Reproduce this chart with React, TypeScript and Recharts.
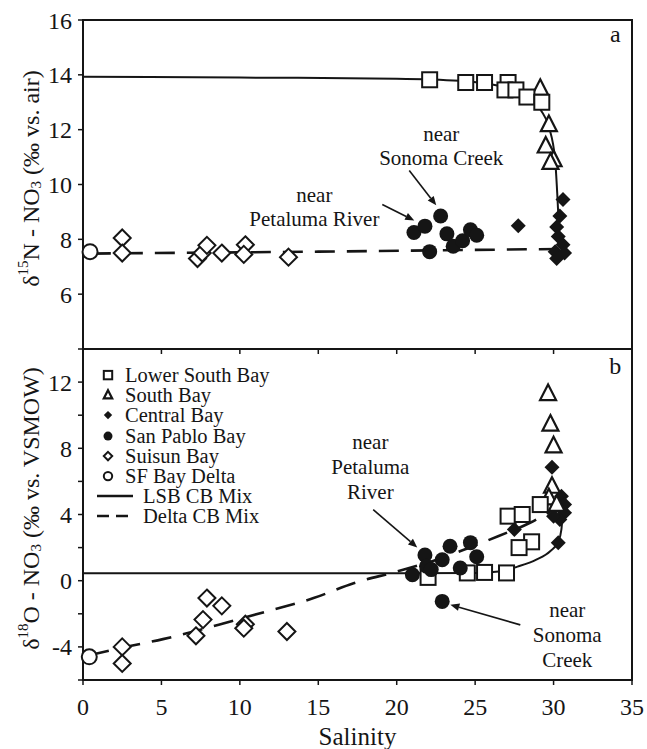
import React from "react";
import {
  ComposedChart, Line, Scatter, XAxis, YAxis, ReferenceArea, ReferenceDot, ReferenceLine, Legend,
} from "recharts";

const W = 647;
const H = 749;
const FONT = "'Liberation Serif', 'Times New Roman', serif";
const INK = "#151515";

// axes
const salinityTicks = [0, 5, 10, 15, 20, 25, 30, 35];
const n15Ticks = [6, 8, 10, 12, 14, 16];
const o18Ticks = [-6, -4, -2, 0, 2, 4, 6, 8, 10, 12, 14];

// panel a: d15N vs salinity, [salinity, value]
const lowerSouthBayN = [[22.1, 13.82], [24.4, 13.72], [25.6, 13.72], [27.1, 13.72], [26.9, 13.45], [27.6, 13.45], [28.3, 13.19], [29.25, 13.0]];
const southBayN = [[29.15, 13.5], [29.7, 12.18], [29.5, 11.4], [30.0, 10.9], [29.8, 10.8]];
const centralBayN = [[30.6, 9.45], [27.75, 8.5], [30.4, 8.85], [30.2, 8.45], [30.3, 8.1], [30.6, 7.8], [30.1, 7.55], [30.7, 7.5], [30.2, 7.3]];
const sanPabloBayN = [[21.1, 8.25], [21.8, 8.48], [22.8, 8.85], [22.1, 7.55], [23.2, 8.2], [23.6, 7.75], [24.2, 7.95], [24.7, 8.35], [25.1, 8.15]];
const suisunBayN = [[2.5, 8.05], [2.5, 7.5], [7.3, 7.3], [7.6, 7.5], [7.9, 7.78], [8.85, 7.5], [10.35, 7.8], [10.25, 7.45], [13.1, 7.35]];
const deltaN = [[0.45, 7.55]];
const lsbMixN = [[0, 13.93], [10, 13.9], [20, 13.86], [24, 13.78], [26.5, 13.6], [28, 13.4], [28.7, 13.2], [29.15, 12.75], [29.7, 12.1], [30.1, 10.9], [30.25, 9.5], [30.4, 7.7]];
const deltaMixN = [[0.5, 7.48], [15, 7.55], [30.5, 7.65]];

// panel b: d18O vs salinity
const lowerSouthBayO = [[22.0, 0.2], [24.5, 0.47], [25.6, 0.5], [27.0, 0.47], [27.1, 3.9], [28.0, 4.0], [29.15, 4.6], [28.6, 2.35], [27.8, 2.0]];
const southBayO = [[29.65, 11.3], [29.8, 9.45], [30.0, 8.14], [29.9, 5.7], [29.7, 5.0], [30.2, 4.6]];
const centralBayO = [[29.9, 6.85], [30.5, 5.1], [30.7, 4.6], [30.7, 4.1], [30.4, 3.7], [30.0, 3.9], [30.3, 2.3], [27.5, 3.1]];
const sanPabloBayO = [[21.0, 0.36], [21.8, 1.55], [21.9, 0.87], [22.2, 0.67], [22.9, 1.27], [23.4, 2.08], [24.05, 0.77], [24.7, 2.3], [25.1, 1.45], [22.9, -1.25]];
const suisunBayO = [[2.5, -4.0], [2.5, -5.0], [7.2, -3.33], [7.65, -2.35], [7.9, -1.05], [8.85, -1.52], [10.35, -2.63], [10.25, -2.87], [13.0, -3.07]];
const deltaO = [[0.4, -4.6]];
const lsbMixO = [[0, 0.45], [10, 0.45], [20, 0.45], [25, 0.47], [26.5, 0.55], [27.7, 0.85], [28.9, 1.27], [29.8, 1.8], [30.3, 2.35], [30.5, 3.1], [30.6, 4.3]];
const deltaMixO = [[0.4, -4.5], [3, -3.95], [5.1, -3.53], [7.05, -3.07], [9.4, -2.46], [11.7, -1.86], [14.7, -1.05], [17.25, -0.15], [20, 0.55], [22.5, 1.25], [24.5, 1.95], [26.5, 2.7], [28.5, 3.5], [30.5, 4.6]];

const legendNames = ["Lower South Bay", "South Bay", "Central Bay", "San Pablo Bay", "Suisun Bay", "SF Bay Delta", "LSB CB Mix", "Delta CB Mix"];
const legendKinds = ["square", "triangle", "diamond", "dot", "openDiamond", "ring", "solid", "dashed"];

// annotations: anchor is baseline of first line
const notesA = [
  { s: 22.84, v: 11.57, lines: ["near", "Sonoma Creek"] },
  { s: 14.75, v: 9.35, lines: ["near", "Petaluma River"] },
];
const notesB = [
  { s: 18.32, v: 7.94, lines: ["near", "Petaluma", "River"] },
  { s: 30.87, v: -2.18, lines: ["near", "Sonoma", "Creek"] },
];
const arrowsA = [
  [[20.8, 10.51], [22.52, 9.24]],
  [[19.08, 9.27], [21.12, 8.69]],
];
const arrowsB = [
  [[18.5, 4.3], [21.31, 2.0]],
  [[27.88, -2.67], [23.42, -1.45]],
];

const pts = (a: number[][]) => a.map(([s, v]) => ({ s, v }));

function Marker({ cx, cy, kind, r }: { cx: number; cy: number; kind: string; r: number }) {
  if (cx == null || cy == null) return null;
  switch (kind) {
    case "square":
      return <rect x={cx - r} y={cy - r} width={2 * r} height={2 * r} fill="#fff" stroke={INK} strokeWidth={2} />;
    case "triangle":
      return (
        <polygon
          points={`${cx},${cy - r * 1.15} ${cx + r},${cy + r * 0.8} ${cx - r},${cy + r * 0.8}`}
          fill="#fff" stroke={INK} strokeWidth={2.2} strokeLinejoin="miter"
        />
      );
    case "diamond":
      return <polygon points={`${cx},${cy - r} ${cx + r},${cy} ${cx},${cy + r} ${cx - r},${cy}`} fill={INK} />;
    case "openDiamond":
      return (
        <polygon points={`${cx},${cy - r} ${cx + r},${cy} ${cx},${cy + r} ${cx - r},${cy}`} fill="#fff" stroke={INK} strokeWidth={2} />
      );
    case "dot":
      return <circle cx={cx} cy={cy} r={r} fill={INK} />;
    case "ring":
      return <circle cx={cx} cy={cy} r={r} fill="#fff" stroke={INK} strokeWidth={2} />;
    default:
      return null;
  }
}

const shapeOf = (kind: string, r: number) => (p: any) => <Marker cx={p.cx} cy={p.cy} kind={kind} r={r} />;

function Arrow(p: any) {
  const { x1, y1, x2, y2 } = p;
  const a = Math.atan2(y2 - y1, x2 - x1);
  const L = 9;
  const w = 3.8;
  const bx = x2 - L * Math.cos(a);
  const by = y2 - L * Math.sin(a);
  const px = -Math.sin(a) * w;
  const py = Math.cos(a) * w;
  return (
    <g>
      <line x1={x1} y1={y1} x2={bx} y2={by} stroke={INK} strokeWidth={1.6} />
      <polygon points={`${x2},${y2} ${bx + px},${by + py} ${bx - px},${by - py}`} fill={INK} />
    </g>
  );
}

const noteShape = (lines: string[], gap: number, size = 21) => (p: any) => (
  <text x={p.cx} y={p.cy} textAnchor="middle" fontFamily={FONT} fontSize={size} fill={INK}>
    {lines.map((t, i) => (
      <tspan key={i} x={p.cx} dy={i === 0 ? 0 : gap}>{t}</tspan>
    ))}
  </text>
);

function YTitle({ viewBox, mass, iso, units }: any) {
  const cx = 31;
  const cy = viewBox ? viewBox.y + viewBox.height / 2 - 6 : 180;
  return (
    <text
      x={cx} y={cy} transform={`rotate(-90 ${cx} ${cy})`} textAnchor="middle" dominantBaseline="central"
      fontFamily={FONT} fontSize={24} fill={INK}
    >
      δ<tspan dy={-8} fontSize={15}>{mass}</tspan>
      <tspan dy={8}>{iso} - NO</tspan>
      <tspan dy={5} fontSize={15}>3</tspan>
      <tspan dy={-5}> (‰ vs. {units})</tspan>
    </text>
  );
}

const ROW = 20.2;

function LegendBox() {
  return (
    <div style={{ fontFamily: FONT, fontSize: 20.5, color: INK, lineHeight: `${ROW}px` }}>
      {legendNames.map((name, i) => {
        const kind = legendKinds[i];
        const isLine = kind === "solid" || kind === "dashed";
        return (
          <div key={name} style={{ display: "flex", alignItems: "center", height: ROW, whiteSpace: "nowrap" }}>
            <svg width={isLine ? 47 : 29} height={ROW} style={{ flex: "none" }}>
              {isLine ? (
                <line x1={1} y1={ROW / 2} x2={37} y2={ROW / 2} stroke={INK} strokeWidth={2.5} strokeDasharray={kind === "dashed" ? "12 7" : undefined} />
              ) : (
                <Marker cx={12} cy={ROW / 2} kind={kind} r={kind === "dot" ? 4.5 : 4.2} />
              )}
            </svg>
            <span style={{ display: "inline-block", height: ROW, lineHeight: `${ROW}px`, overflow: "visible" }}>{name}</span>
          </div>
        );
      })}
    </div>
  );
}

const tickStyle = { fontFamily: FONT, fontSize: 24, fill: INK };
const axisLine = { stroke: INK, strokeWidth: 2 };
const tickLine = { stroke: INK, strokeWidth: 1.5 };

function PanelA() {
  return (
    <ComposedChart width={W} height={H} margin={{ top: 20, right: 15, bottom: 390, left: 0 }}>
      <XAxis
        dataKey="s" type="number" domain={[0, 35]} ticks={salinityTicks} height={10} tickSize={5}
        tickFormatter={() => ""} axisLine={axisLine} tickLine={tickLine}
      />
      <YAxis
        dataKey="v" type="number" domain={[4, 16]} ticks={n15Ticks} width={83} tickSize={5} tickMargin={6}
        tick={tickStyle} axisLine={axisLine} tickLine={tickLine}
        label={{ content: (p: any) => <YTitle viewBox={p.viewBox} mass="15" iso="N" units="air" /> }}
      />
      <ReferenceArea x1={0} x2={35} y1={4} y2={16} fill="none" stroke={INK} strokeWidth={2} ifOverflow="visible" />
      <Line data={pts(lsbMixN)} dataKey="v" type="monotone" stroke={INK} strokeWidth={2} dot={false} activeDot={false} isAnimationActive={false} />
      <Line data={pts(deltaMixN)} dataKey="v" type="linear" stroke={INK} strokeWidth={2.6} strokeDasharray="20 12" dot={false} activeDot={false} isAnimationActive={false} />
      <Scatter data={pts(suisunBayN)} shape={shapeOf("openDiamond", 8.5)} isAnimationActive={false} />
      <Scatter data={pts(deltaN)} shape={shapeOf("ring", 7.5)} isAnimationActive={false} />
      <Scatter data={pts(centralBayN)} shape={shapeOf("diamond", 7.5)} isAnimationActive={false} />
      <Scatter data={pts(southBayN)} shape={shapeOf("triangle", 8)} isAnimationActive={false} />
      <Scatter data={pts(lowerSouthBayN)} shape={shapeOf("square", 7.5)} isAnimationActive={false} />
      <Scatter data={pts(sanPabloBayN)} shape={shapeOf("dot", 7.5)} isAnimationActive={false} />
      {arrowsA.map(([a, b], i) => (
        <ReferenceLine key={`a${i}`} segment={[{ x: a[0], y: a[1] }, { x: b[0], y: b[1] }]} shape={Arrow} />
      ))}
      {notesA.map((n, i) => (
        <ReferenceDot key={`n${i}`} x={n.s} y={n.v} r={0} shape={noteShape(n.lines, 24)} />
      ))}
      <ReferenceDot x={33.93} y={15.21} r={0} shape={noteShape(["a"], 0, 24)} />
    </ComposedChart>
  );
}

function PanelB() {
  return (
    <ComposedChart width={W} height={H} margin={{ top: 349, right: 15, bottom: 9, left: 0 }}>
      <XAxis
        dataKey="s" type="number" domain={[0, 35]} ticks={salinityTicks} height={60} tickSize={5} tickMargin={13}
        tick={tickStyle} axisLine={axisLine} tickLine={tickLine}
        label={{
          content: (p: any) => {
            const vb = p.viewBox || { x: 83, width: 549, y: 680 };
            return (
              <text x={vb.x + vb.width / 2} y={745} textAnchor="middle" fontFamily={FONT} fontSize={25} fill={INK}>
                Salinity
              </text>
            );
          },
        }}
      />
      <YAxis
        dataKey="v" type="number" domain={[-6, 14]} ticks={o18Ticks} width={83} tickSize={5} tickMargin={6}
        tick={tickStyle} axisLine={axisLine} tickLine={tickLine}
        tickFormatter={(v: number) => (v % 4 === 0 ? String(v) : "")}
        label={{ content: (p: any) => <YTitle viewBox={p.viewBox} mass="18" iso="O" units="VSMOW" /> }}
      />
      <ReferenceArea x1={0} x2={35} y1={-6} y2={14} fill="none" stroke={INK} strokeWidth={2} ifOverflow="visible" />
      <Line data={pts(lsbMixO)} dataKey="v" type="monotone" stroke={INK} strokeWidth={2} dot={false} activeDot={false} isAnimationActive={false} />
      <Line data={pts(deltaMixO)} dataKey="v" type="monotone" stroke={INK} strokeWidth={2.6} strokeDasharray="20 12" dot={false} activeDot={false} isAnimationActive={false} />
      <Scatter data={pts(suisunBayO)} shape={shapeOf("openDiamond", 8.5)} isAnimationActive={false} />
      <Scatter data={pts(deltaO)} shape={shapeOf("ring", 7.5)} isAnimationActive={false} />
      <Scatter data={pts(centralBayO)} shape={shapeOf("diamond", 7.5)} isAnimationActive={false} />
      <Scatter data={pts(southBayO)} shape={shapeOf("triangle", 8)} isAnimationActive={false} />
      <Scatter data={pts(lowerSouthBayO)} shape={shapeOf("square", 7.5)} isAnimationActive={false} />
      <Scatter data={pts(sanPabloBayO)} shape={shapeOf("dot", 7.5)} isAnimationActive={false} />
      {arrowsB.map(([a, b], i) => (
        <ReferenceLine key={`b${i}`} segment={[{ x: a[0], y: a[1] }, { x: b[0], y: b[1] }]} shape={Arrow} />
      ))}
      {notesB.map((n, i) => (
        <ReferenceDot key={`m${i}`} x={n.s} y={n.v} r={0} shape={noteShape(n.lines, 25)} />
      ))}
      <ReferenceDot x={33.93} y={12.48} r={0} shape={noteShape(["b"], 0, 24)} />
      <Legend
        layout="vertical" align="center" verticalAlign="middle"
        wrapperStyle={{ left: 96, top: 365, width: 260 }}
        content={() => <LegendBox />}
      />
    </ComposedChart>
  );
}

export default function App() {
  return (
    <div style={{ position: "absolute", left: 0, top: 0, width: W, height: H, background: "#fff", overflow: "hidden" }}>
      <div style={{ position: "absolute", left: 0, top: 0 }}>
        <PanelB />
      </div>
      <div style={{ position: "absolute", left: 0, top: 0, pointerEvents: "none" }}>
        <PanelA />
      </div>
    </div>
  );
}
